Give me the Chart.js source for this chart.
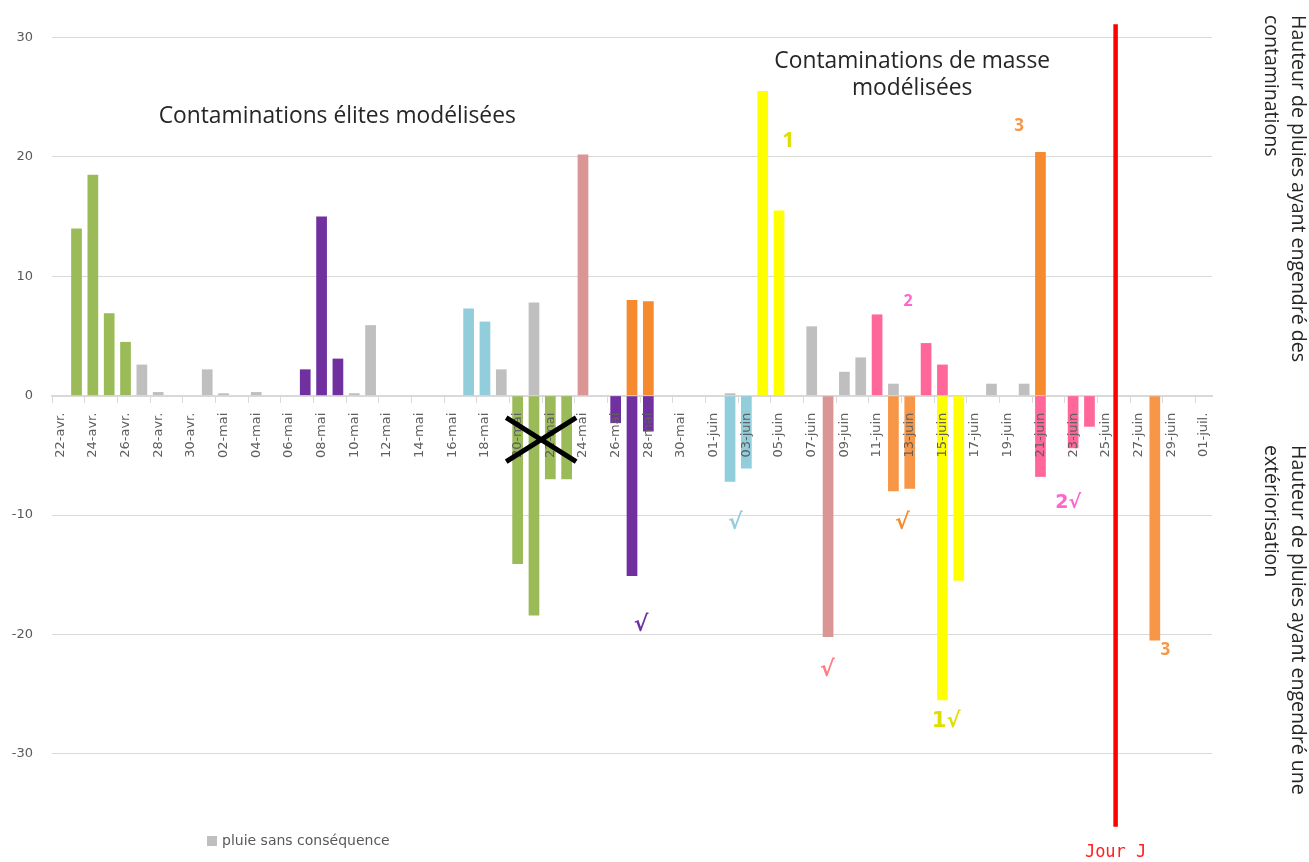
<!DOCTYPE html>
<html lang="fr">
<head>
<meta charset="utf-8">
<title>Contaminations modélisées</title>
<script src="https://cdn.jsdelivr.net/npm/chart.js@4.4.1/dist/chart.umd.min.js"></script>
<style>
    html, body { margin: 0; padding: 0; background: #fff; }
    #wrap { width: 1309px; height: 862px; position: relative; }
</style>
</head>
<body>
<div id="wrap"><canvas id="chart1"></canvas></div>
<script>

// categories : un jour par barre, du 22 avril au 1er juillet
function days(month, from, to) {
    var out = [];
    for (var d = from; d <= to; d++) {
        out.push((d < 10 ? '0' : '') + d + '-' + month);
    }
    return out;
}
var dates = [].concat(days('avr.', 22, 30), days('mai', 1, 31), days('juin', 1, 30), days('juil.', 1, 1));

// hauteurs de pluie (mm) : positif = contamination, negatif = exteriorisation
var pluieSansConsequence = [['27-avr.', 2.6], ['28-avr.', 0.3], ['01-mai', 2.2], ['02-mai', 0.2], ['04-mai', 0.3],
    ['10-mai', 0.2], ['11-mai', 5.9], ['19-mai', 2.2], ['21-mai', 7.8], ['02-juin', 0.2], ['07-juin', 5.8],
    ['09-juin', 2.0], ['10-juin', 3.2], ['12-juin', 1.0], ['18-juin', 1.0], ['20-juin', 1.0]];
var serieVerte = [['23-avr.', 14.0], ['24-avr.', 18.5], ['25-avr.', 6.9], ['26-avr.', 4.5],
    ['20-mai', -14.1], ['21-mai', -18.4], ['22-mai', -7.0], ['23-mai', -7.0]];
var serieViolette = [['07-mai', 2.2], ['08-mai', 15.0], ['09-mai', 3.1], ['26-mai', -2.3], ['27-mai', -15.1], ['28-mai', -3.0]];
var serieBleue = [['17-mai', 7.3], ['18-mai', 6.2], ['02-juin', -7.2], ['03-juin', -6.1]];
var serieVieuxRose = [['24-mai', 20.2], ['08-juin', -20.2]];
var serieOrange = [['27-mai', 8.0], ['28-mai', 7.9], ['12-juin', -8.0], ['13-juin', -7.8]];
var serieJaune = [['04-juin', 25.5], ['05-juin', 15.5], ['15-juin', -25.5], ['16-juin', -15.5]];
var serieRose = [['11-juin', 6.8], ['14-juin', 4.4], ['15-juin', 2.6], ['21-juin', -6.8], ['23-juin', -4.4], ['24-juin', -2.6]];
var serieOrange3 = [['21-juin', 20.4], ['28-juin', -20.5]];

// jour J : position en jours depuis le 22-avr., et etendue verticale du trait
var jourJ = { jour: 64.6, haut: 31.1, bas: -36.1 };

// annotations placees en coordonnees (jour, mm)
var notes = [
    { text: ['Contaminations élites modélisées'], x: 16.96, y: 23.4, color: '#262626', font: '22.8px "Open Sans"' },
    { text: ['Contaminations de masse', 'modélisées'], x: 52.15, y: 28.0, color: '#262626', font: '22.8px "Open Sans"' },
    { text: ['1'], x: 44.56, y: 21.3, color: '#dede00', font: 'bold 21px "Open Sans"' },
    { text: ['3'], x: 58.7, y: 22.6, color: '#f79646', font: 'bold 17px "Open Sans"' },
    { text: ['2'], x: 51.9, y: 7.9, color: '#ff66cc', font: 'bold 16px "Open Sans"' },
    { text: ['√'], x: 35.56, y: -19.2, color: '#7030a0', font: 'bold 22px "DejaVu Sans"' },
    { text: ['√'], x: 41.32, y: -10.7, color: '#92cddc', font: 'bold 22px "DejaVu Sans"' },
    { text: ['√'], x: 46.95, y: -23.0, color: '#ff7c80', font: 'bold 22px "DejaVu Sans"' },
    { text: ['√'], x: 51.54, y: -10.7, color: '#f58a2e', font: 'bold 22px "DejaVu Sans"' },
    { text: ['1√'], x: 54.23, y: -27.3, color: '#dede00', font: 'bold 21px "DejaVu Sans"' },
    { text: ['2√'], x: 61.7, y: -9.0, color: '#ff66cc', font: 'bold 19px "DejaVu Sans"' },
    { text: ['3'], x: 67.64, y: -21.3, color: '#f79646', font: 'bold 17px "Open Sans"' }
];
// croix barrant les contaminations de fin mai
var croix = { x: 29.44, y: -3.69, dx: 2.14, dy: 1.84 };

var titreHaut = ['Hauteur de pluies ayant engendré des', 'contaminations'];
var titreBas = ['Hauteur de pluies ayant engendré une', 'extériorisation'];

function toSeries(pairs) {
    var out = dates.map(function() { return null; });
    pairs.forEach(function(p) { out[dates.indexOf(p[0])] = p[1]; });
    return out;
}

function barSet(label, pairs, color) {
    return {
        label: label,
        data: toSeries(pairs),
        backgroundColor: color,
        borderWidth: 0,
        grouped: false,
        categoryPercentage: 1,
        barPercentage: 0.655
    };
}

Chart.defaults.font.family = '"DejaVu Sans", sans-serif';

// textes, croix et legende dessines par-dessus
var decor = {
    id: 'decor',
    afterDraw: function(chart) {
        var c = chart.ctx;
        var sx = chart.scales.xj;
        var sy = chart.scales.y;
        c.save();
        c.textAlign = 'center';
        c.textBaseline = 'middle';
        notes.forEach(function(n) {
            c.font = n.font;
            c.fillStyle = n.color;
            n.text.forEach(function(t, i) {
                c.fillText(t, sx.getPixelForValue(n.x), sy.getPixelForValue(n.y) + i * 27);
            });
        });

        // croix
        c.strokeStyle = '#000';
        c.lineWidth = 5;
        c.beginPath();
        c.moveTo(sx.getPixelForValue(croix.x - croix.dx), sy.getPixelForValue(croix.y + croix.dy));
        c.lineTo(sx.getPixelForValue(croix.x + croix.dx), sy.getPixelForValue(croix.y - croix.dy));
        c.moveTo(sx.getPixelForValue(croix.x - croix.dx), sy.getPixelForValue(croix.y - croix.dy));
        c.lineTo(sx.getPixelForValue(croix.x + croix.dx), sy.getPixelForValue(croix.y + croix.dy));
        c.stroke();

        // Jour J
        c.font = '17px "DejaVu Sans Mono"';
        c.fillStyle = '#ff2020';
        c.fillText('Jour J', sx.getPixelForValue(jourJ.jour), chart.height - 9);

        // titres des deux demi-axes, a droite
        c.fillStyle = '#262626';
        c.font = '19.5px "Open Sans"';
        c.textAlign = 'left';
        [[titreHaut, 15], [titreBas, 445]].forEach(function(t) {
            c.save();
            c.translate(1298, t[1]);
            c.rotate(Math.PI / 2);
            t[0].forEach(function(line, i) { c.fillText(line, 0, i * 27); });
            c.restore();
        });

        // legende (seule la pluie sans consequence y figure)
        var ds = chart.data.datasets[0];
        c.fillStyle = ds.backgroundColor;
        c.fillRect(207, 836, 10, 10);
        c.fillStyle = '#595959';
        c.font = '14px "DejaVu Sans"';
        c.fillText(ds.label, 222, 841);
        c.restore();
    }
};

var ctx = document.getElementById('chart1').getContext('2d');
var myChart = new Chart(ctx, {
    type: 'bar',
    data: {
        labels: dates,
        datasets: [
            barSet('pluie sans conséquence', pluieSansConsequence, '#bfbfbf'),
            barSet('élites 1', serieVerte, '#9bbb59'),
            barSet('élites 2', serieViolette, '#7030a0'),
            barSet('élites 3', serieBleue, '#92cddc'),
            barSet('élites 4', serieVieuxRose, '#da9694'),
            barSet('élites 5', serieOrange, function(c) { return c.raw > 0 ? '#f58a2e' : '#f79646'; }),
            barSet('masse 1', serieJaune, '#ffff00'),
            barSet('masse 2', serieRose, '#ff6699'),
            barSet('masse 3', serieOrange3, function(c) { return c.raw > 0 ? '#f58a2e' : '#f79646'; }),
            {
                type: 'line',
                label: 'Jour J',
                xAxisID: 'xj',
                yAxisID: 'y',
                data: [{ x: jourJ.jour, y: jourJ.haut }, { x: jourJ.jour, y: jourJ.bas }],
                borderColor: '#ff0000',
                borderWidth: 4.5,
                pointRadius: 0
            }
        ]
    },
    options: {
        responsive: true,
        maintainAspectRatio: false,
        animation: false,
        layout: {
            padding: { left: 12, right: 97, top: 23, bottom: 34 }
        },
        plugins: {
            legend: { display: false },
            tooltip: { enabled: false }
        },
        scales: {
            x: {
                position: { y: 0 },
                grid: {
                    drawOnChartArea: false,
                    offset: true,
                    tickLength: 6,
                    color: function(c) { return c.index % 2 === 0 ? '#d9d9d9' : 'rgba(0,0,0,0)'; }
                },
                border: { color: '#d9d9d9', width: 2 },
                ticks: {
                    z: 1,
                    autoSkip: false,
                    maxRotation: 90,
                    minRotation: 90,
                    padding: 11,
                    color: '#606060',
                    font: { size: 13 },
                    callback: function(v, i) { return i % 2 === 0 ? dates[i] : ''; }
                }
            },
            xj: {
                type: 'linear',
                display: false,
                offset: false,
                min: -0.5,
                max: 70.5
            },
            y: {
                min: -36.2,
                max: 31.2,
                afterFit: function(s) { s.width = 40; s.paddingTop = 0; s.paddingBottom = 0; },
                grid: { color: '#d9d9d9', drawTicks: false },
                border: { display: false },
                ticks: {
                    stepSize: 10,
                    includeBounds: false,
                    padding: 19,
                    color: '#595959',
                    font: { size: 13 }
                }
            }
        }
    },
    plugins: [decor]
});

</script>
</body>
</html>
